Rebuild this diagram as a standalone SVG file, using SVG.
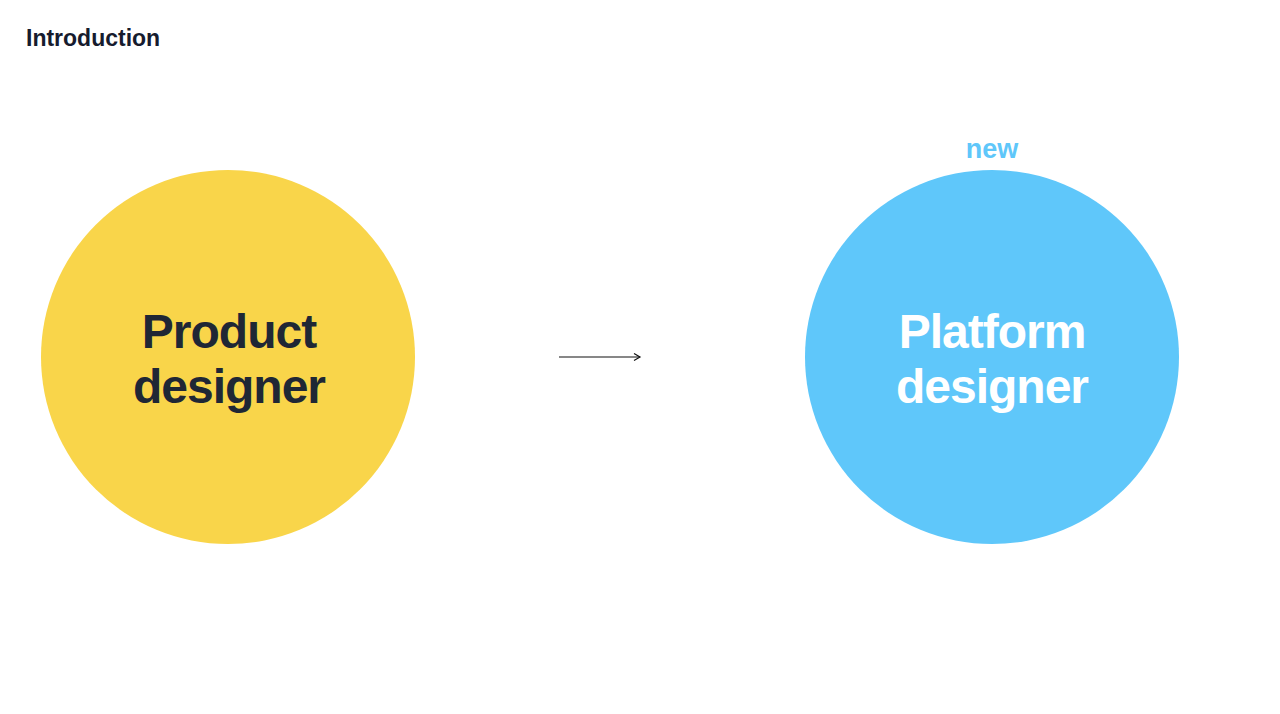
<svg xmlns="http://www.w3.org/2000/svg" width="1280" height="714" viewBox="0 0 1280 714">
<style>
.t{font-family:"Liberation Sans",Arial,sans-serif;font-weight:bold;}
.big{font-size:48px;letter-spacing:-1px;text-anchor:middle;}
</style>
<defs>
<marker id="ah" markerWidth="10" markerHeight="10" refX="8" refY="4" orient="auto" markerUnits="userSpaceOnUse">
<path d="M2,0.5 L8,4 L2,7.5" fill="none" stroke="#111" stroke-width="1.2"/>
</marker>
</defs>
<rect width="1280" height="714" fill="#fff"/>
<text id="title" class="t" x="26" y="46" font-size="23" fill="#161b2e">Introduction</text>
<g id="product">
<circle cx="228" cy="357" r="187" fill="#F9D54A"/>
<text class="t big" x="229" y="348" fill="#1f2735">Product</text>
<text class="t big" x="229" y="403" fill="#1f2735">designer</text>
</g>
<g id="platform">
<text class="t" x="992" y="158" font-size="27" fill="#5FC7FA" text-anchor="middle">new</text>
<circle cx="992" cy="357" r="187" fill="#5FC7FA"/>
<text class="t big" x="992" y="348" fill="#fff">Platform</text>
<text class="t big" x="992" y="403" fill="#fff">designer</text>
</g>
<g id="connectors">
<line x1="559" y1="357" x2="640" y2="357" stroke="#111" stroke-width="1.2" marker-end="url(#ah)"/>
</g>
</svg>
